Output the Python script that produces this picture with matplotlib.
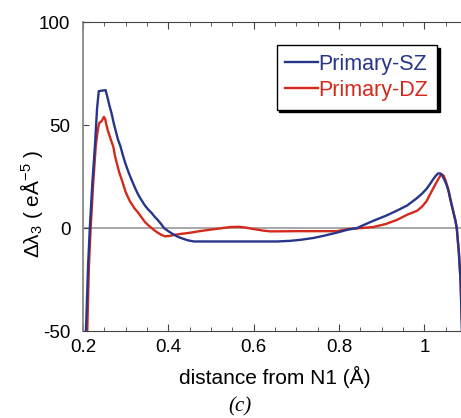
import matplotlib
matplotlib.use("Agg")
import matplotlib.pyplot as plt
from matplotlib.ticker import MultipleLocator

plt.rcParams['font.family'] = ['Liberation Sans', 'DejaVu Sans']
plt.rcParams['mathtext.fontset'] = 'custom'
plt.rcParams['mathtext.rm'] = 'Liberation Sans'
plt.rcParams['mathtext.it'] = 'Liberation Sans:italic'
plt.rcParams['axes.unicode_minus'] = False

# distance from N1 (A) and delta lambda_3 (e A^-5)
sz_x = [0.207, 0.212, 0.216, 0.222, 0.228, 0.233, 0.237, 0.253, 0.258, 0.262, 0.267, 0.272,
        0.277, 0.282, 0.288, 0.294, 0.300, 0.307, 0.314, 0.322, 0.330, 0.338, 0.345, 0.353,
        0.361, 0.368, 0.375, 0.383, 0.390, 0.400, 0.410, 0.422, 0.435, 0.447, 0.460,
        0.550, 0.655, 0.685, 0.710, 0.740, 0.765, 0.795, 0.820, 0.842, 0.860, 0.880, 0.910,
        0.936, 0.960, 0.983, 0.995, 1.005, 1.013, 1.020, 1.026, 1.032, 1.037, 1.042, 1.047,
        1.052, 1.057, 1.061, 1.065, 1.069, 1.073, 1.076, 1.081, 1.085, 1.088]
sz_y = [-50, -18, 0, 22, 40, 58, 66.5, 67, 63, 59.5, 55.7, 51,
        47, 43, 39.6, 35, 31, 27, 23.4, 19.5, 16, 13.3, 11, 9,
        7.3, 5.5, 4, 2, 0, -1.5, -2.8, -4.2, -5.2, -6, -6.5,
        -6.5, -6.5, -6.2, -5.7, -4.8, -3.7, -2.2, -0.8, 0, 1.7, 3.5, 6,
        8.5, 11, 14.6, 16.8, 19, 21.3, 23.5, 25.2, 26.5, 26.6, 25.5, 23.5,
        21, 17.8, 14, 10.5, 7, 3.5, 0, -12, -26, -50]

dz_x = [0.210, 0.214, 0.218, 0.224, 0.230, 0.235, 0.238, 0.244, 0.249, 0.252, 0.255, 0.258,
        0.262, 0.266, 0.271, 0.275, 0.280, 0.285, 0.291, 0.300, 0.310, 0.320, 0.330, 0.338,
        0.345, 0.353, 0.361, 0.368, 0.375, 0.383, 0.392, 0.403, 0.415, 0.430, 0.450, 0.470,
        0.490, 0.505, 0.520, 0.545, 0.565, 0.580, 0.595, 0.610, 0.625, 0.640, 0.700, 0.795,
        0.820, 0.850, 0.880, 0.910, 0.936, 0.960, 0.983, 0.995, 1.005, 1.015, 1.024, 1.032,
        1.037, 1.040, 1.045, 1.050, 1.056, 1.061, 1.065, 1.069, 1.073, 1.076, 1.081, 1.085,
        1.089]
dz_y = [-50, -18, 0, 22, 40, 48, 51, 52, 54, 53, 50, 47.5,
        45, 42.5, 39.6, 35, 31, 27, 23.4, 17.5, 13, 9.8, 7.3, 5,
        3, 1.4, 0, -1.2, -2.2, -3.2, -4, -3.8, -3.3, -2.8, -2.3, -1.6,
        -1, -0.6, -0.2, 0.5, 0.6, 0.3, -0.3, -0.8, -1.3, -1.6, -1.5, -1.5,
        -0.5, 0, 0.5, 2, 4, 6.5, 8.4, 10.5, 13, 17, 20.5, 23.5,
        25.3, 26.2, 25.5, 23, 19, 14, 10.5, 7, 3.5, 0, -12, -26,
        -50]

fig = plt.figure(figsize=(4.61, 4.18), dpi=100)
ax = fig.add_axes([0.180, 0.208, 0.833, 0.739])

ax.axhline(0, color='#a0a0a0', lw=1.3, zorder=1)
ax.plot(sz_x, sz_y, color='#27368a', lw=1.7, label='Primary-SZ', zorder=3)
ax.plot(dz_x, dz_y, color='#d42a1c', lw=1.7, label='Primary-DZ', zorder=2)

ax.set_xlim(0.2, 1.1)
ax.set_ylim(-50, 100)
ax.xaxis.set_minor_locator(MultipleLocator(0.05))
ax.yaxis.set_major_locator(MultipleLocator(50))
ax.set_xticks([0.2, 0.4, 0.6, 0.8, 1.0])
ax.set_xticklabels(['0.2', '0.4', '0.6', '0.8', '1'])
ax.tick_params(axis='x', which='both', direction='in', top=True, colors='#444444',
               labelcolor='black', labelsize=13.5, pad=6)
ax.tick_params(axis='x', which='major', length=5)
ax.tick_params(axis='x', which='minor', length=3)
ax.tick_params(axis='y', direction='in', length=4, colors='#444444',
               labelcolor='black', labelsize=13.5, pad=9)

for side in ['top', 'bottom']:
    ax.spines[side].set_color('#444444')
ax.spines['left'].set_color('#888888')
ax.spines['left'].set_linewidth(1.3)

ax.set_xlabel('distance from N1 (Å)', fontsize=15, labelpad=7)
ax.set_ylabel('Δλ$_3$ ( eÅ$^{-5}$ )', fontsize=15)
ax.yaxis.set_label_coords(-0.10, 0.41)

leg = ax.legend(loc='upper right', bbox_to_anchor=(0.922, 0.926), borderaxespad=0,
                fontsize=15.5, handlelength=1.5, handletextpad=0.05,
                labelspacing=0.25, borderpad=0.4, fancybox=False,
                shadow={'color': 'black', 'alpha': 1})
leg.get_frame().set_edgecolor('black')
leg.get_frame().set_linewidth(1.0)
for txt, line in zip(leg.get_texts(), leg.get_lines()):
    txt.set_color(line.get_color())

fig.text(0.52, 0.003, '(c)', family='Liberation Serif', style='italic', fontsize=15,
         ha='center', va='bottom')

fig.savefig('out.png', dpi=100)
